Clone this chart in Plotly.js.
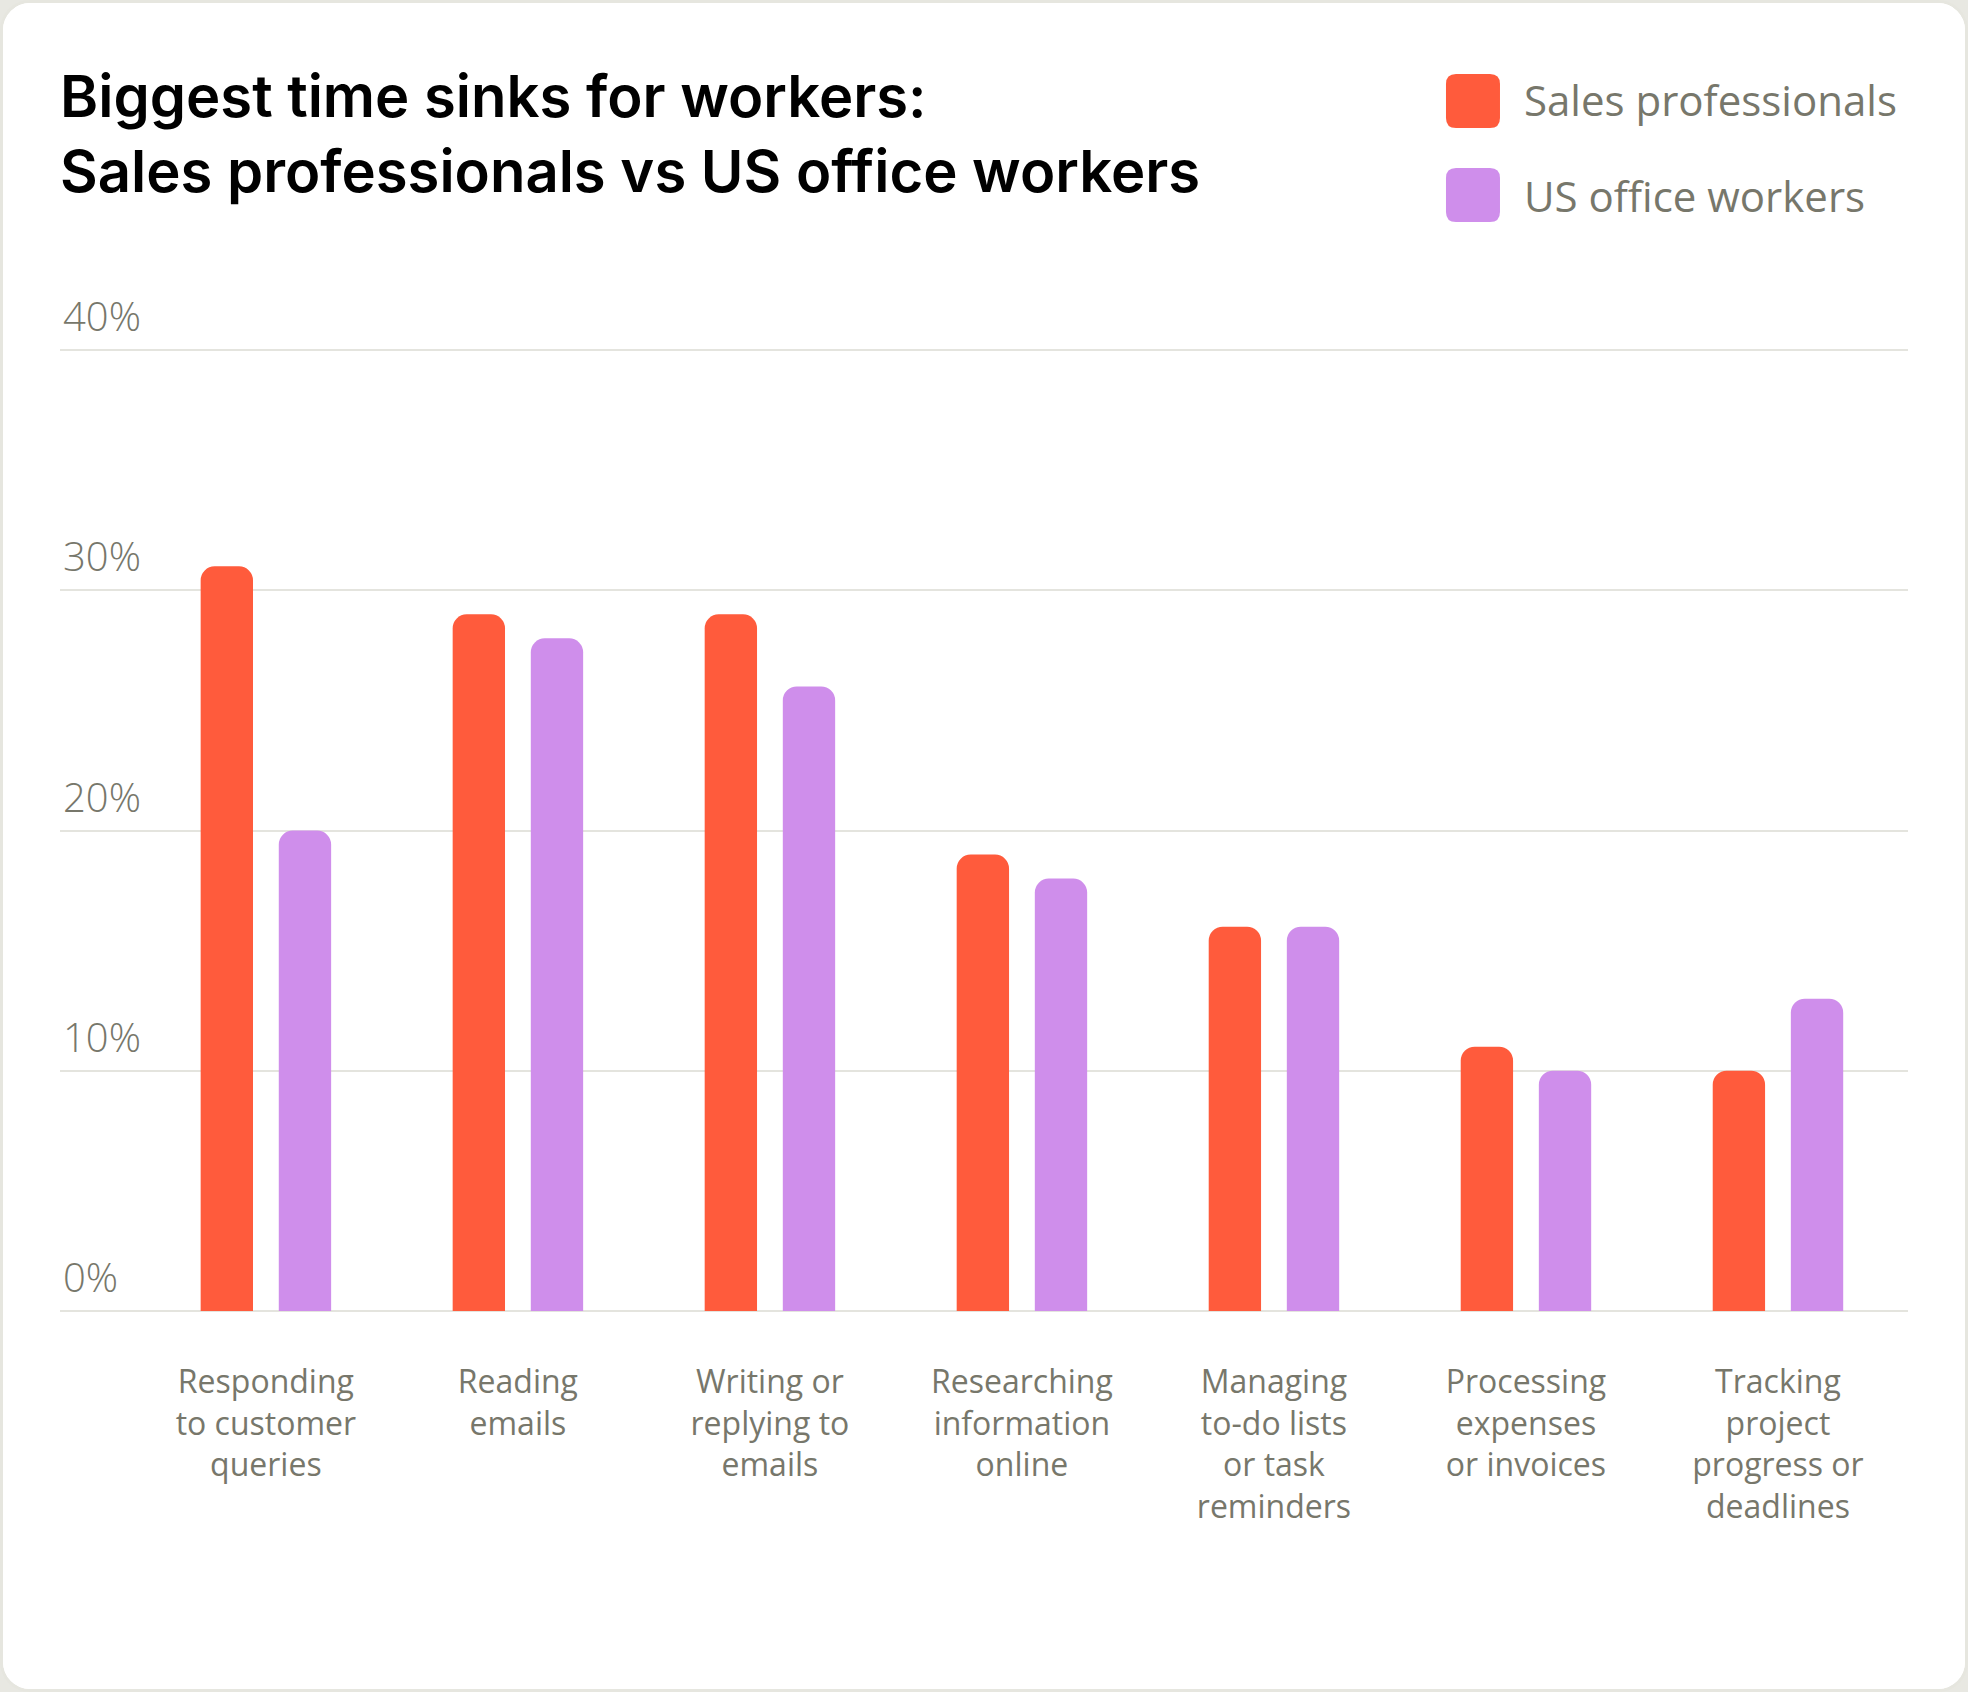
<!DOCTYPE html>
<html>
<head>
<meta charset="utf-8">
<script src="https://cdn.plot.ly/plotly-3.0.1.min.js"></script>
<style>
  html, body { margin: 0; padding: 0; background: #e8e8e2; }
  #chart {
    position: absolute; left: 0; top: 0;
    width: 1968px; height: 1692px;
    box-sizing: border-box;
    border: 3px solid #e6e6df;
    border-radius: 30px;
    overflow: hidden;
    background: #ffffff;
  }
</style>
</head>
<body>
<div id="chart"></div>
<script>
// Categorias del eje X (con saltos de linea como en la imagen)
var categorias = [
    "Responding<br>to customer<br>queries",
    "Reading<br>emails",
    "Writing or<br>replying to<br>emails",
    "Researching<br>information<br>online",
    "Managing<br>to-do lists<br>or task<br>reminders",
    "Processing<br>expenses<br>or invoices",
    "Tracking<br>project<br>progress or<br>deadlines"
];

// Series (porcentajes)
var nombres = ["Sales professionals", "US office workers"];
var ventas = [31, 29, 29, 19, 16, 11, 10];
var oficina = [20, 28, 26, 18, 16, 10, 13];

// Eje Y
var yTicks = [0, 10, 20, 30, 40];
var yTickText = ["0%", "10%", "20%", "30%", "40%"];

var colores = ["#ff5b3c", "#cf8eeb"];
var grisTexto = "#77776b";
var grisLinea = "#e4e4de";

var W = 1962, H = 1686;
var altoPlot = 1057; // alto del area de trazado en px

var trace1 = {
    x: categorias,
    y: ventas,
    name: nombres[0],
    type: 'bar',
    marker: { color: colores[0] },
    hoverinfo: 'skip'
};

var trace2 = {
    x: categorias,
    y: oficina,
    name: nombres[1],
    type: 'bar',
    marker: { color: colores[1] },
    hoverinfo: 'skip'
};

// y en pixeles de la pagina -> coordenada paper
function yp(py) { return (1311 - py) / altoPlot; }

// Leyenda dibujada a mano: cuadros redondeados en pixeles
function cuadro(py, color) {
    return {
        type: 'path',
        xref: 'paper', yref: 'paper',
        xsizemode: 'pixel', ysizemode: 'pixel',
        xanchor: 0.7646, yanchor: yp(py),
        path: 'M -17,-27 H 17 Q 27,-27 27,-17 V 17 Q 27,27 17,27 H -17 Q -27,27 -27,17 V -17 Q -27,-27 -17,-27 Z',
        fillcolor: color,
        line: { width: 0 }
    };
}

function etiqueta(texto, py) {
    return {
        text: texto,
        xref: 'paper', yref: 'paper',
        x: 0.791, y: yp(py),
        xanchor: 'left', yanchor: 'middle',
        showarrow: false,
        font: { family: 'Open Sans, sans-serif', size: 42, color: grisTexto }
    };
}

var layout = {
    width: W,
    height: H,
    paper_bgcolor: '#ffffff',
    plot_bgcolor: '#ffffff',
    margin: { l: 57, r: 57, t: 251, b: 378 },
    title: {
        text: 'Biggest time sinks for workers:<br>Sales professionals vs US office workers',
        xref: 'container', yref: 'container',
        x: 57 / W, xanchor: 'left',
        y: 1 - 114 / H, yanchor: 'top',
        font: { family: 'Inter, sans-serif', size: 58, color: '#000000', weight: 600 }
    },
    showlegend: false,
    barmode: 'group',
    bargap: 0.38,
    bargroupgap: 0.33,
    barcornerradius: 14,
    xaxis: {
        type: 'category',
        range: [-0.817, 6.516],
        showgrid: false,
        zeroline: false,
        showline: false,
        ticks: '',
        ticklabelstandoff: 49,
        tickfont: { family: 'Open Sans, sans-serif', size: 32, color: grisTexto }
    },
    yaxis: {
        range: [0, 44],
        tickvals: yTicks,
        ticktext: yTickText,
        ticklabelposition: 'inside top',
        ticklabelshift: -5,
        ticks: '',
        showline: false,
        zeroline: true,
        zerolinecolor: grisLinea,
        zerolinewidth: 2,
        gridcolor: grisLinea,
        gridwidth: 2,
        tickfont: { family: 'Open Sans, sans-serif', size: 40, color: grisTexto, weight: 300 }
    },
    shapes: [cuadro(101, colores[0]), cuadro(195, colores[1])],
    annotations: [etiqueta(nombres[0], 100), etiqueta(nombres[1], 195)]
};

var config = { displayModeBar: false, staticPlot: true };

Plotly.newPlot('chart', [trace1, trace2], layout, config);
</script>
</body>
</html>
